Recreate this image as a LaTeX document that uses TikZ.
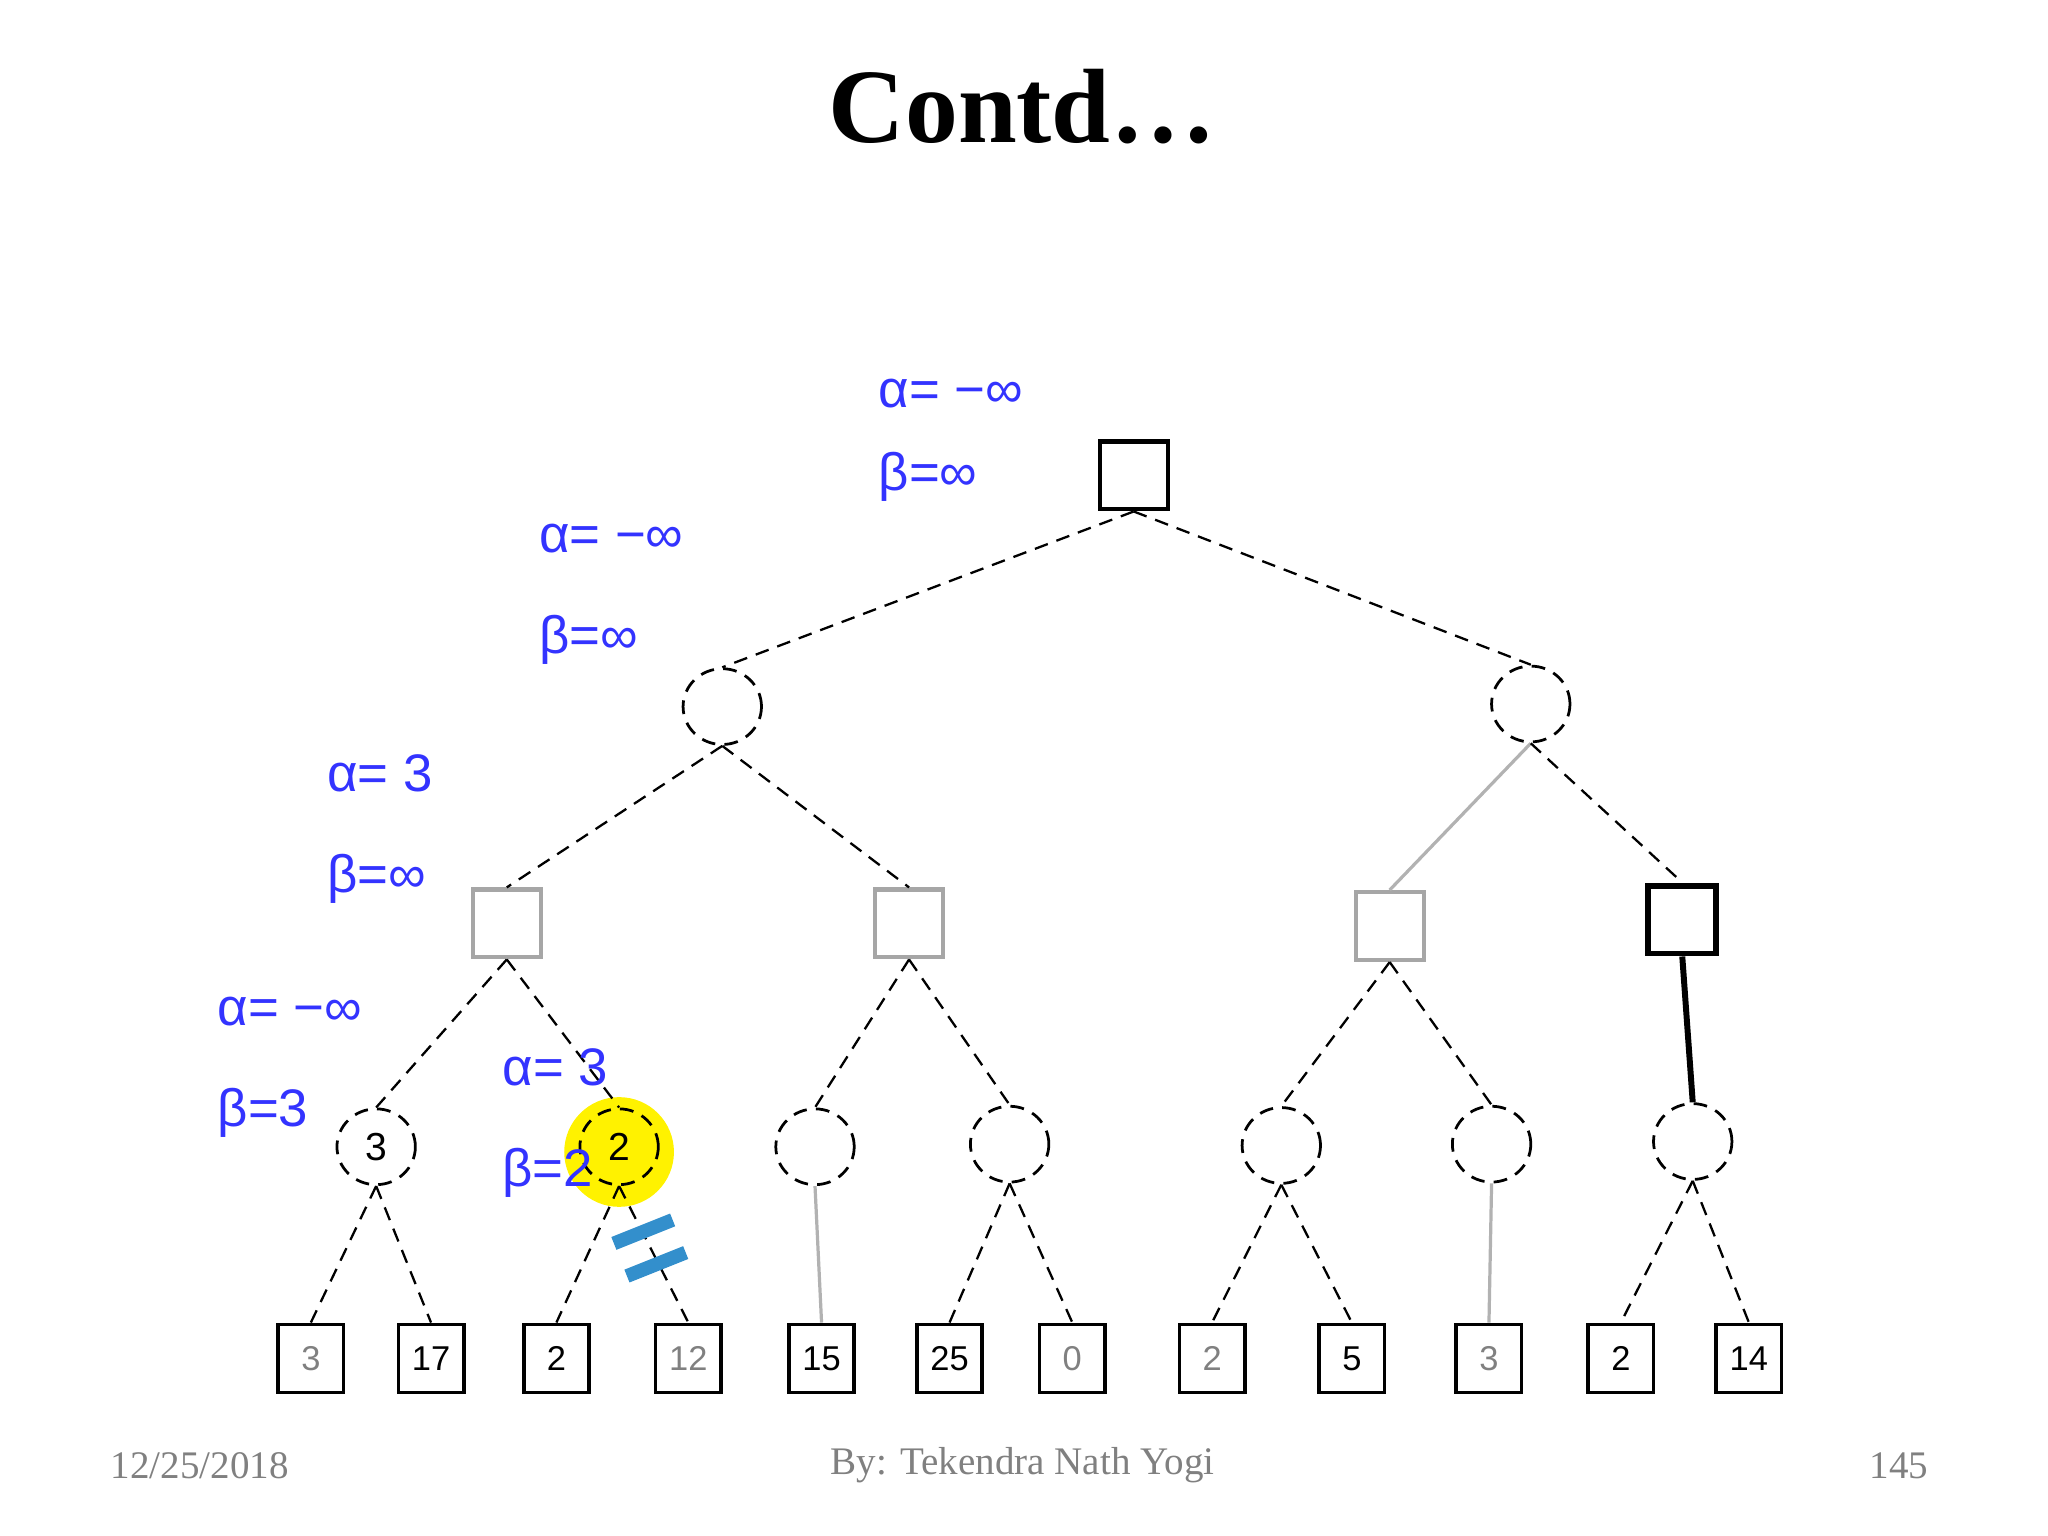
\documentclass[tikz,border=0pt]{standalone}
\usepackage{fontspec}
\usetikzlibrary{shapes.geometric}
\setmainfont{Liberation Serif}
\newfontfamily\lab{Liberation Sans}
\begin{document}
\begin{tikzpicture}[x=0.01cm,y=-0.01cm,
 sq/.style={draw,minimum size=0.52cm,inner sep=0pt,line width=0.9pt,font=\lab\fontsize{8}{9}\selectfont},
 lf/.style={draw,minimum width=0.5cm,minimum height=0.52cm,inner sep=0pt,line width=0.8pt,font=\lab\fontsize{7.5}{9}\selectfont},
 ci/.style={draw,ellipse,minimum width=0.6cm,minimum height=0.58cm,inner sep=0pt,densely dashed,line width=0.6pt,font=\lab\fontsize{8.5}{10}\selectfont},
 ed/.style={densely dashed,line width=0.5pt},
 gd/.style={gray!60,line width=0.7pt},
 ab/.style={anchor=west,text=blue!80,font=\lab\fontsize{11.5}{14}\selectfont,align=left,inner sep=0pt}]
\useasboundingbox (0,0) rectangle (1568,1176);
\node[font=\bfseries\fontsize{23}{28}\selectfont] (t) at (783,82) {Contd…};
\fill[yellow] (474,882) circle (42);
\node[sq] (r) at (868,364) {};
\node[ci] (a) at (553,541) {};
\node[ci] (b) at (1172,539) {};
\node[sq,draw=gray!70] (a1) at (388,707) {};
\node[sq,draw=gray!70] (a2) at (696,707) {};
\node[sq,draw=gray!70] (b1) at (1064,709) {};
\node[sq,line width=1.3pt] (b2) at (1288,704) {};
\node[ci] (c1) at (288,878) {3};
\node[ci] (c2) at (474,878) {2};
\node[ci] (c3) at (624,878) {};
\node[ci] (c4) at (773,876) {};
\node[ci] (c5) at (981,877) {};
\node[ci] (c6) at (1142,876) {};
\node[ci] (c7) at (1296,874) {};
\foreach \n/\x/\v/\c in {l1/238/3/gray,l2/330/17/black,l3/426/2/black,l4/527/12/gray,l5/629/15/black,l6/727/25/black,l7/821/0/gray,l8/928/2/gray,l9/1035/5/black,l10/1140/3/gray,l11/1241/2/black,l12/1339/14/black}
  \node[lf,text=\c] (\n) at (\x,1040) {\v};
\draw[ed] (r.south) -- (a.north); \draw[ed] (r.south) -- (b.north);
\draw[ed] (a.south) -- (a1.north); \draw[ed] (a.south) -- (a2.north);
\draw[gd] (b.south) -- (b1.north); \draw[ed] (b.south) -- (b2.north);
\draw[ed] (a1.south) -- (c1.north); \draw[ed] (a1.south) -- (c2.north);
\draw[ed] (a2.south) -- (c3.north); \draw[ed] (a2.south) -- (c4.north);
\draw[ed] (b1.south) -- (c5.north); \draw[ed] (b1.south) -- (c6.north);
\draw[line width=1.3pt] (b2.south) -- (c7.north);
\draw[ed] (c1.south) -- (l1.north); \draw[ed] (c1.south) -- (l2.north);
\draw[ed] (c2.south) -- (l3.north); \draw[ed] (c2.south) -- (l4.north);
\draw[gd] (c3.south) -- (l5.north);
\draw[ed] (c4.south) -- (l6.north); \draw[ed] (c4.south) -- (l7.north);
\draw[ed] (c5.south) -- (l8.north); \draw[ed] (c5.south) -- (l9.north);
\draw[gd] (c6.south) -- (l10.north);
\draw[ed] (c7.south) -- (l11.north); \draw[ed] (c7.south) -- (l12.north);
\draw[blue!40!cyan!60!gray,line width=3pt] (470,952) -- (515,934) (480,977) -- (525,959);
\node[ab] (t1) at (672,337) {α= −∞\\[4pt]β=∞};
\node[ab] (t2) at (412,455) {α= −∞\\[8pt]β=∞};
\node[ab] (t3) at (250,635) {α= 3\\[8pt]β=∞};
\node[ab] (t4) at (166,817) {α= −∞\\[8pt]β=3};
\node[ab] (t5) at (384,860) {α= 3\\[8pt]β=2};
\node[gray,font=\fontsize{8.5}{10}\selectfont] (f1) at (153,1122) {12/25/2018};
\node[gray,font=\fontsize{8.5}{10}\selectfont] (f2) at (783,1122) {By: Tekendra Nath Yogi};
\node[gray,font=\fontsize{8.5}{10}\selectfont] (f3) at (1454,1122) {145};
\end{tikzpicture}
\end{document}
